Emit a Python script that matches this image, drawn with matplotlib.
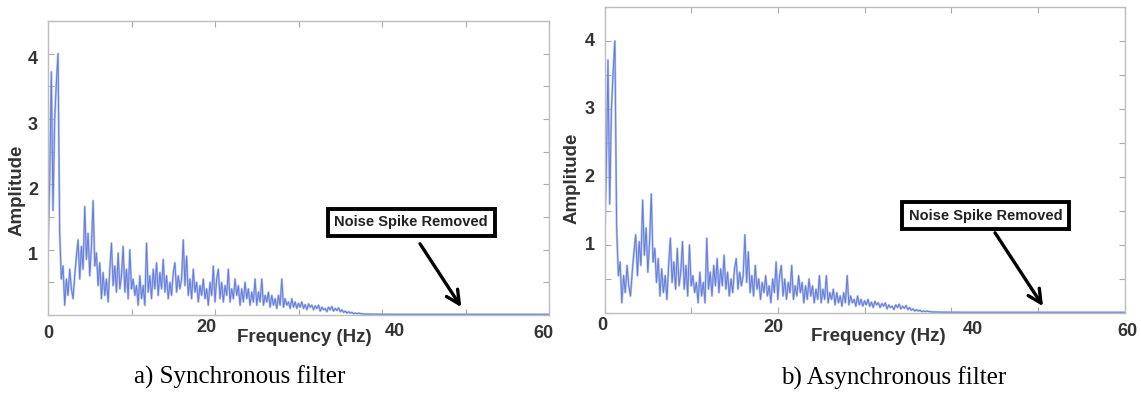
import numpy as np
import matplotlib
matplotlib.use("Agg")
import matplotlib.pyplot as plt

# ---- data (amplitude spectrum, 0.2 Hz steps 0..38 Hz) ----
freq_step = 0.2
amp_low = [
    1.00, 2.05, 3.72, 1.60, 3.00,   # 0-1 Hz
    3.55, 4.00, 1.26, 0.55, 0.75,   # 1-2
    0.15, 0.55, 0.30, 0.70, 0.40,   # 2-3
    0.25, 0.60, 0.90, 1.15, 0.55,   # 3-4
    1.05, 0.70, 1.66, 0.85, 1.25,   # 4-5
    0.60, 1.05, 1.75, 0.75, 0.95,   # 5-6
    0.45, 0.80, 0.25, 0.65, 0.30,   # 6-7
    0.55, 0.20, 0.70, 1.10, 0.45,   # 7-8
    0.75, 0.35, 0.95, 0.40, 0.60,   # 8-9
    1.05, 0.35, 0.70, 0.25, 1.00,   # 9-10
    0.40, 0.55, 0.30, 0.45, 0.15,   # 10-11
    0.60, 0.25, 0.45, 0.15, 1.10,   # 11-12
    0.35, 0.60, 0.25, 0.70, 0.40,   # 12-13
    0.80, 0.30, 0.65, 0.40, 0.85,   # 13-14
    0.35, 0.60, 0.25, 0.50, 0.30,   # 14-15
    0.65, 0.80, 0.35, 0.60, 0.40,   # 15-16
    0.55, 1.15, 0.45, 0.90, 0.30,   # 16-17
    0.55, 0.25, 0.70, 0.35, 0.50,   # 17-18
    0.20, 0.45, 0.30, 0.55, 0.25,   # 18-19
    0.40, 0.15, 0.50, 0.30, 0.75,   # 19-20
    0.20, 0.55, 0.70, 0.25, 0.50,   # 20-21
    0.20, 0.45, 0.30, 0.70, 0.20,   # 21-22
    0.40, 0.25, 0.55, 0.30, 0.45,   # 22-23
    0.15, 0.40, 0.20, 0.50, 0.25,   # 23-24
    0.40, 0.15, 0.35, 0.20, 0.55,   # 24-25
    0.15, 0.35, 0.20, 0.55, 0.15,   # 25-26
    0.30, 0.20, 0.35, 0.12, 0.30,   # 26-27
    0.15, 0.25, 0.10, 0.30, 0.15,   # 27-28
    0.55, 0.12, 0.25, 0.15, 0.20,   # 28-29
    0.10, 0.25, 0.12, 0.20, 0.10,   # 29-30
    0.18, 0.12, 0.20, 0.10, 0.16,   # 30-31
    0.08, 0.17, 0.12, 0.15, 0.08,   # 31-32
    0.14, 0.10, 0.15, 0.06, 0.12,   # 32-33
    0.08, 0.10, 0.05, 0.12, 0.08,   # 33-34
    0.13, 0.06, 0.10, 0.07, 0.11,   # 34-35
    0.05, 0.08, 0.04, 0.06, 0.03,   # 35-36
    0.05, 0.03, 0.04, 0.02, 0.03,   # 36-37
    0.02, 0.03, 0.02, 0.02, 0.015,  # 37-38
    0.015,
]
freq_tail = [39, 42, 45, 48, 50, 52, 55, 58, 60]
amp_tail = [0.012, 0.010, 0.010, 0.010, 0.010, 0.010, 0.010, 0.010, 0.010]

x_ticks = [0, 20, 40, 60]
y_ticks = [1, 2, 3, 4]
captions = ["a) Synchronous filter", "b) Asynchronous filter"]
note = "Noise Spike Removed"

freq = np.concatenate([np.arange(len(amp_low)) * freq_step, freq_tail])
amp = np.concatenate([amp_low, amp_tail])

# ---- figure ----
fig = plt.figure(figsize=(11.41, 3.94), dpi=100)
W, H = 1141, 394

panels = [
    dict(px=(48, 21, 549, 315), box=(43.5, 1.42), tail=(44.55, 1.09), head=(49.5, 0.12),
         xl=(0.511, -0.078), yl=(-0.062, 0.425), cap=(240, 377),
         xoff=[(0, -18), (-9, -13), (13, -17), (-6, -18)], ydy=-6),
    dict(px=(604.5, 7, 1124.5, 313), box=(44.0, 1.43), tail=(45.06, 1.18), head=(50.6, 0.10),
         xl=(0.526, -0.078), yl=(-0.062, 0.44), cap=(894, 378),
         xoff=[(-2, -12), (-4, -14), (22, -17), (3, -18)], ydy=0),
]

tick_col = "#333333"
spine_col = "#bdbdbd"
for i, p in enumerate(panels):
    l, t, r, b = p["px"]
    ax = fig.add_axes([l / W, 1 - b / H, (r - l) / W, (b - t) / H])
    ax.plot(freq, amp, color="#9db3ee", lw=1.6, alpha=0.8)
    ax.plot(freq, amp, color="#5f74d4", lw=0.7, alpha=0.9)
    ax.set_xlim(0, 60)
    ax.set_ylim(0, 4.5)
    ax.set_xticks(x_ticks)
    ax.set_xticks(np.arange(0, 61, 10), minor=True)
    ax.set_yticks(y_ticks)
    ax.set_yticks(np.arange(0, 4.51, 0.5), minor=True)
    ax.tick_params(which="both", direction="in", top=True, right=True,
                   length=4, width=0.8, color="#aaaaaa",
                   labelbottom=False, labelleft=False)
    for s in ax.spines.values():
        s.set_color(spine_col)
        s.set_linewidth(1.0)
    # tick labels, nudged as in the reference
    for v, (dx, dy) in zip(x_ticks, p["xoff"]):
        ax.annotate(str(v), xy=(v, 0), xycoords=("data", "axes fraction"),
                    xytext=(dx, dy), textcoords="offset pixels",
                    ha="center", va="center", fontsize=13, fontweight="bold",
                    family="Liberation Sans", color=tick_col, annotation_clip=False)
    for v in y_ticks:
        ax.annotate(str(v), xy=(0, v), xycoords=("axes fraction", "data"),
                    xytext=(-10, p["ydy"]), textcoords="offset pixels",
                    ha="right", va="center", fontsize=13, fontweight="bold",
                    family="Liberation Sans", color=tick_col, annotation_clip=False)
    ax.text(p["xl"][0], p["xl"][1], "Frequency (Hz)", transform=ax.transAxes,
            ha="center", va="center", fontsize=13.5, fontweight="bold",
            family="Liberation Sans", color=tick_col)
    ax.text(p["yl"][0], p["yl"][1], "Amplitude", transform=ax.transAxes,
            ha="center", va="center", rotation=90, fontsize=13.5, fontweight="bold",
            family="Liberation Sans", color=tick_col)
    ax.annotate("", xy=p["head"], xytext=p["tail"], xycoords="data",
                arrowprops=dict(arrowstyle="->", lw=2.4, color="black",
                                mutation_scale=24, shrinkA=0, shrinkB=0))
    ax.text(p["box"][0], p["box"][1], note, ha="center", va="center",
            fontsize=10.5, fontweight="bold", family="Liberation Sans", color="#222222",
            bbox=dict(boxstyle="square,pad=0.45", fc="white", ec="black", lw=2.8))
    fig.text(p["cap"][0] / W, 1 - p["cap"][1] / H, captions[i], ha="center", va="center",
             fontsize=18, family="Liberation Serif", color="black")

fig.savefig("out.png", dpi=100)
